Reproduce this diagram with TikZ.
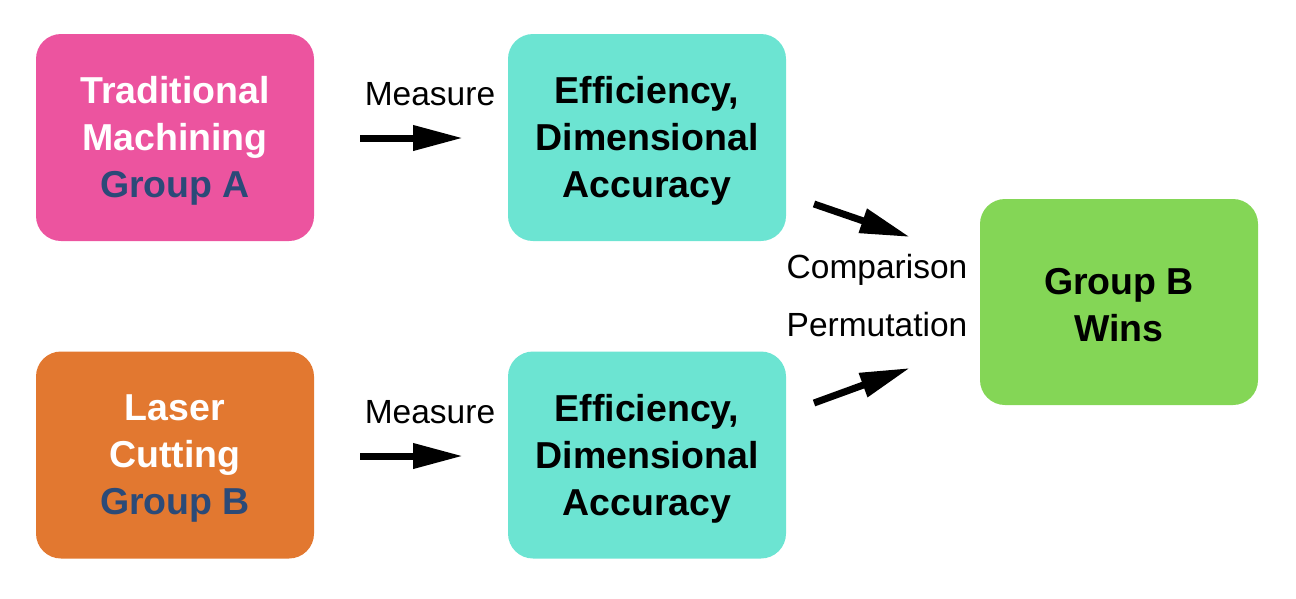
\documentclass[tikz,border=0pt]{standalone}
\usepackage{fontspec}
\setmainfont{Liberation Sans}
\usetikzlibrary{arrows.meta}
\definecolor{pinkc}{HTML}{EC549F}
\definecolor{orangec}{HTML}{E27830}
\definecolor{tealc}{HTML}{6CE4D2}
\definecolor{greenc}{HTML}{84D656}
\definecolor{bluetxt}{HTML}{2B4A78}
\tikzset{
  box/.style={rounded corners=25pt, minimum width=278pt, minimum height=207pt, inner sep=0pt},
  boxtxt/.style={inner sep=0pt, align=center, font=\fontsize{37.5}{47}\selectfont\bfseries},
  lbl/.style={font=\fontsize{33.5}{40}\selectfont, inner sep=0pt},
  arr/.style={line width=7pt, -{Triangle[length=50pt,width=24pt]}, shorten >=0pt}
}
\begin{document}
\begin{tikzpicture}[x=1pt,y=-1pt]
\useasboundingbox (0,0) rectangle (1296,598);
\node[box, fill=pinkc] (trad) at (175,137.5) {};
\node[box, fill=orangec] (laser) at (175,455) {};
\node[box, fill=tealc] (effA) at (647,137.5) {};
\node[box, fill=tealc] (effB) at (647,455) {};
\node[box, fill=greenc, minimum height=206pt] (wins) at (1119,302) {};
\node[boxtxt, text=white] (tradt) at ([yshift=-3.5pt]trad.center) {Traditional\\Machining\\\textcolor{bluetxt}{Group A}};
\node[boxtxt, text=white] (lasert) at ([yshift=-3.5pt]laser.center) {Laser\\Cutting\\\textcolor{bluetxt}{Group B}};
\node[boxtxt] (effAt) at ([yshift=-3.5pt]effA.center) {Efficiency,\\Dimensional\\Accuracy};
\node[boxtxt] (effBt) at ([yshift=-3.5pt]effB.center) {Efficiency,\\Dimensional\\Accuracy};
\node[boxtxt] (winst) at ([yshift=-3pt]wins.center) {Group B\\Wins};
\node[lbl] (m1) at (430,94) {Measure};
\node[lbl] (m2) at (430,412) {Measure};
\node[lbl] (cmp) at (877,270) {Comparison};
\node[lbl] (perm) at (877,325) {Permutation};
\coordinate (a1s) at (360,138);
\coordinate (a1e) at (463,138);
\coordinate (a2s) at (360,456);
\coordinate (a2e) at (463,456);
\coordinate (a3s) at (814,204);
\coordinate (a3e) at (910,237);
\coordinate (a4s) at (814,403);
\coordinate (a4e) at (910,368);
\draw[arr] (a1s) -- (a1e);
\draw[arr] (a2s) -- (a2e);
\draw[arr] (a3s) -- (a3e);
\draw[arr] (a4s) -- (a4e);
\end{tikzpicture}
\end{document}
